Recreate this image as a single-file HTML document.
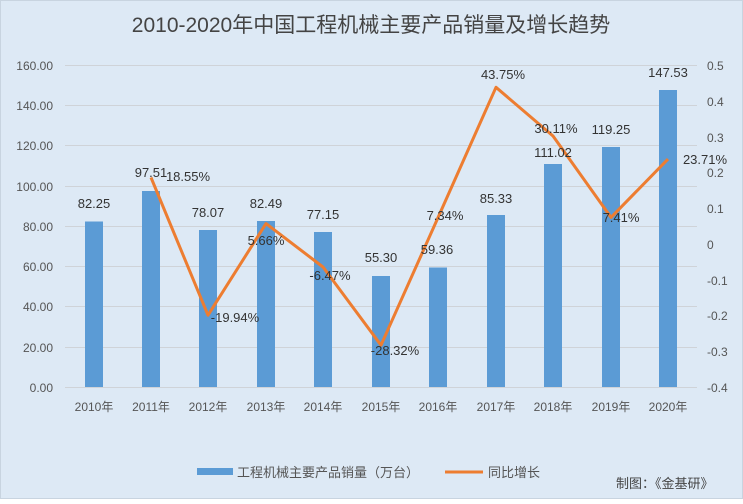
<!DOCTYPE html>
<html><head><meta charset="utf-8"><style>
html,body{margin:0;padding:0;}
body{width:743px;height:499px;overflow:hidden;background:#fff;}
text{font-family:"Liberation Sans","Noto Sans CJK SC",sans-serif;}
</style></head><body>
<svg width="743" height="499" xmlns="http://www.w3.org/2000/svg">
<rect x="0.5" y="0.5" width="742" height="498" fill="#dde9f5" stroke="#c8d4e0"/>
<text x="371" y="32" font-size="21" fill="#444" text-anchor="middle">2010-2020年中国工程机械主要产品销量及增长趋势</text>
<g stroke="#cfd3d8" stroke-width="1">
<line x1="65" x2="697" y1="65.5" y2="65.5"/>
<line x1="65" x2="697" y1="105.5" y2="105.5"/>
<line x1="65" x2="697" y1="145.5" y2="145.5"/>
<line x1="65" x2="697" y1="186.5" y2="186.5"/>
<line x1="65" x2="697" y1="226.5" y2="226.5"/>
<line x1="65" x2="697" y1="266.5" y2="266.5"/>
<line x1="65" x2="697" y1="306.5" y2="306.5"/>
<line x1="65" x2="697" y1="347.5" y2="347.5"/>
<line x1="65" x2="697" y1="387.5" y2="387.5"/>
</g>
<g font-size="12" fill="#555" text-anchor="end">
<text x="53" y="70">160.00</text><text x="53" y="110">140.00</text><text x="53" y="150">120.00</text>
<text x="53" y="191">100.00</text><text x="53" y="231">80.00</text><text x="53" y="271">60.00</text>
<text x="53" y="311">40.00</text><text x="53" y="352">20.00</text><text x="53" y="392">0.00</text>
</g>
<g font-size="12" fill="#555" text-anchor="start">
<text x="707" y="70">0.5</text><text x="707" y="106">0.4</text><text x="707" y="142">0.3</text>
<text x="707" y="177">0.2</text><text x="707" y="213">0.1</text><text x="707" y="249">0</text>
<text x="707" y="285">-0.1</text><text x="707" y="320">-0.2</text><text x="707" y="356">-0.3</text><text x="707" y="392">-0.4</text>
</g>
<g fill="#5b9bd5">
<rect x="85" y="221.5" width="18" height="165.5"/>
<rect x="142" y="191" width="18" height="196"/>
<rect x="199" y="230" width="18" height="157"/>
<rect x="257" y="221" width="18" height="166"/>
<rect x="314" y="232" width="18" height="155"/>
<rect x="372" y="276" width="18" height="111"/>
<rect x="429" y="267.5" width="18" height="119.5"/>
<rect x="487" y="215" width="18" height="172"/>
<rect x="544" y="164" width="18" height="223"/>
<rect x="602" y="147" width="18" height="240"/>
<rect x="659" y="90" width="18" height="297"/>
</g>
<polyline fill="none" stroke="#ed7d31" stroke-width="3" stroke-linejoin="round" points="151,177.5 208,315.2 266,223.6 323,267 381,345.2 438,217.6 496,87.3 553,136 611,217.4 668,159.1"/>
<g font-size="13" fill="#333" text-anchor="middle">
<text x="94" y="208">82.25</text><text x="151" y="177">97.51</text><text x="208" y="217">78.07</text>
<text x="266" y="208">82.49</text><text x="323" y="219">77.15</text><text x="381" y="262">55.30</text>
<text x="437" y="254">59.36</text><text x="496" y="203">85.33</text><text x="553" y="157">111.02</text>
<text x="611" y="134">119.25</text><text x="668" y="77">147.53</text>
<text x="188" y="181">18.55%</text><text x="235" y="322">-19.94%</text><text x="266" y="245">5.66%</text>
<text x="330" y="280">-6.47%</text><text x="395" y="355">-28.32%</text><text x="445" y="220">7.34%</text>
<text x="503" y="79">43.75%</text><text x="556" y="133">30.11%</text><text x="621" y="222">7.41%</text>
<text x="705" y="164">23.71%</text>
</g>
<g font-size="12" fill="#555" text-anchor="middle">
<text x="94" y="411">2010年</text><text x="151" y="411">2011年</text><text x="208" y="411">2012年</text>
<text x="266" y="411">2013年</text><text x="323" y="411">2014年</text><text x="381" y="411">2015年</text>
<text x="438" y="411">2016年</text><text x="496" y="411">2017年</text><text x="553" y="411">2018年</text>
<text x="611" y="411">2019年</text><text x="668" y="411">2020年</text>
</g>
<rect x="197" y="468" width="36" height="7" fill="#5b9bd5"/>
<text x="237" y="477" font-size="13" fill="#555">工程机械主要产品销量（万台）</text>
<line x1="445" x2="483" y1="472" y2="472" stroke="#ed7d31" stroke-width="3"/>
<text x="488" y="477" font-size="13" fill="#555">同比增长</text>
<text x="616" y="488" font-size="13" fill="#444">制图：《金基研》</text>
</svg>
</body></html>
